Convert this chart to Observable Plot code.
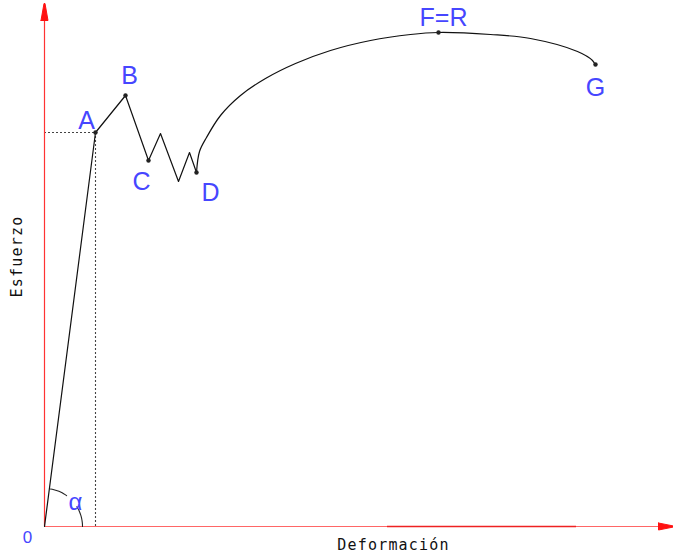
<!DOCTYPE html>
<html>
<head>
<meta charset="utf-8">
<script src="https://cdn.jsdelivr.net/npm/d3@7"></script>
<script src="https://cdn.jsdelivr.net/npm/@observablehq/plot@0.6"></script>
<style>
  html, body { margin: 0; padding: 0; background: #fff; }
  #chart svg { display: block; }
</style>
</head>
<body>
<div id="chart"></div>
<script>
// Strain (x) and stress (y) in arbitrary drawing units; origin = point O.
// Elastic line and yield zigzag (O -> A -> B -> C -> ... -> D)
const zigX = [0, 51, 81, 104, 116, 134, 145, 152];
const zigY = [0, 394, 431, 366, 393, 345, 374, 354];
// Strain-hardening curve (D -> F=R -> G)
const hardX = [152, 155, 162, 176, 196, 221, 251, 286, 326, 366, 394, 446, 486, 533, 548, 551];
const hardY = [354, 375, 389, 411, 431, 448, 463, 476, 486, 492, 494, 492, 488, 475, 466, 461];
// Labelled points
const ptName = ["A", "B", "C", "D", "F=R", "G"];
const ptX = [51, 81, 104, 152, 394, 551];
const ptY = [394, 431, 366, 354, 494, 462];
const lblDX = [-9, 4, -7, 14, 5, 0];
const lblDY = [12, 20, -21, -20, 15, -23];
// Axis extents
const axisXEnd = 629;
const axisYEnd = 523;
// Alpha arc (angle between elastic line and strain axis)
const arcR = 38;

const pts = ptName.map((n, i) => ({name: n, x: ptX[i], y: ptY[i], lx: ptX[i] + lblDX[i], ly: ptY[i] + lblDY[i]}));
const zig = zigX.map((x, i) => ({x, y: zigY[i]}));
const hard = hardX.map((x, i) => ({x, y: hardY[i]}));

const angA = Math.atan2(ptY[0], ptX[0]);
const arc1 = d3.range(0, 11).map(k => { const t = angA - 0.03 - k * (angA - 0.03 - 0.95) / 10; return {x: arcR * Math.cos(t), y: arcR * Math.sin(t)}; });
const arc2 = d3.range(0, 11).map(k => { const t = 0.55 - k * 0.55 / 10; return {x: arcR * Math.cos(t), y: arcR * Math.sin(t)}; });

const arrowX = [{x: axisXEnd - 15, y: 3.5}, {x: axisXEnd, y: 0.5}, {x: axisXEnd, y: -0.5}, {x: axisXEnd - 15, y: -3.5}, {x: axisXEnd - 15, y: 3.5}];
const arrowY = [{x: -3.5, y: axisYEnd - 17}, {x: -0.5, y: axisYEnd}, {x: 0.5, y: axisYEnd}, {x: 3.5, y: axisYEnd - 17}, {x: -3.5, y: axisYEnd - 17}];

const blue = "#4646ff";
const font = "'Liberation Sans Narrow', 'Liberation Sans', 'DejaVu Sans', sans-serif";

const plot = Plot.plot({
  width: 673,
  height: 554,
  margin: 0,
  x: {domain: [-44, 629], axis: null},
  y: {domain: [-28, 526], axis: null},
  marks: [
    // dotted guide lines from A
    Plot.ruleY([ptY[0]], {x1: 0, x2: ptX[0], stroke: "#444", strokeDasharray: "2,2", strokeWidth: 1.1}),
    Plot.ruleX([ptX[0]], {y1: 0, y2: ptY[0], stroke: "#444", strokeDasharray: "2,2", strokeWidth: 1.1}),
    // axes
    Plot.ruleY([0], {x1: 0, x2: axisXEnd - 8, stroke: "#ff6666", strokeWidth: 1.2}),
    Plot.ruleY([0], {x1: 343, x2: 532, stroke: "#ee2222", strokeWidth: 1.5}),
    Plot.ruleX([0], {y1: 0, y2: axisYEnd - 8, stroke: "#ff3333", strokeWidth: 1.2}),
    Plot.line(arrowX, {x: "x", y: "y", fill: "#ff1111", stroke: "#ff1111", strokeWidth: 1}),
    Plot.line(arrowY, {x: "x", y: "y", fill: "#ff1111", stroke: "#ff1111", strokeWidth: 1}),
    // alpha arc
    Plot.line(arc1, {x: "x", y: "y", stroke: "#222", strokeWidth: 1.1}),
    Plot.line(arc2, {x: "x", y: "y", stroke: "#222", strokeWidth: 1.1}),
    // curves
    Plot.line(zig, {x: "x", y: "y", stroke: "#111", strokeWidth: 1.2}),
    Plot.line(hard, {x: "x", y: "y", stroke: "#111", strokeWidth: 1.2, curve: "catmull-rom"}),
    Plot.dot(pts, {x: "x", y: "y", r: 2.2, fill: "#222"}),
    Plot.text(pts, {x: "lx", y: "ly", text: "name", fill: blue, fontSize: 25, fontFamily: font}),
    Plot.text(["0"], {x: -17, y: -11, text: d => d, fill: blue, fontSize: 17, fontFamily: font}),
    Plot.text(["α"], {x: 31, y: 24, text: d => d, fill: blue, fontSize: 24, fontFamily: font}),
    Plot.text(["Deformación"], {x: 349, y: -19, text: d => d, fill: "#111", fontSize: 15, fontFamily: "'DejaVu Sans Mono', monospace"}),
    Plot.text(["Esfuerzo"], {x: -27, y: 270, text: d => d, rotate: -90, fill: "#111", fontSize: 15, fontFamily: "'DejaVu Sans Mono', monospace"})
  ]
});
d3.select(plot).selectAll("text").filter(function() { const t = this.textContent; return t === "Deformación" || t === "Esfuerzo"; }).style("letter-spacing", "1.2px");
document.getElementById("chart").appendChild(plot);
</script>
</body>
</html>
